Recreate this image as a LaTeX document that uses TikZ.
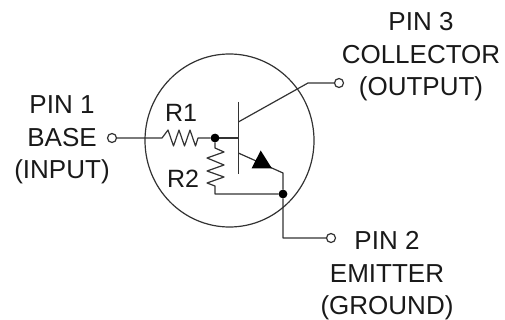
\documentclass[tikz,border=0pt]{standalone}
\usepackage{fontspec}
\setmainfont{Liberation Sans}
\begin{document}
\begin{tikzpicture}[x=1pt,y=-1pt,
  wire/.style={draw=black!80,line width=1.2pt,line join=round},
  term/.style={circle,draw=black!80,line width=1.2pt,fill=white,minimum size=9pt,inner sep=0pt},
  dotn/.style={circle,fill=black,minimum size=8.5pt,inner sep=0pt},
  lbl/.style={align=center,font=\fontsize{26}{32.5}\selectfont,text=black!90,inner sep=0pt},
  lbr/.style={font=\fontsize{25}{30}\selectfont,text=black!90,inner sep=0pt}]
\useasboundingbox (0,0) rectangle (505,320);
\fill[white] (0,0) rectangle (505,320);
\draw[wire] (229.5,140.5) ellipse (84.5 and 86.5);
\node[term] (tb) at (112,138) {};
\node[term] (tc) at (339,83) {};
\node[term] (te) at (331,238) {};
\node[dotn] (jb) at (215,138) {};
\node[dotn] (je) at (283,194) {};
\coordinate (bartop) at (238.3,102);
\coordinate (barbot) at (238.3,174);
\coordinate (barb) at (238.3,138);
\coordinate (barc) at (238.3,122);
\coordinate (cbend) at (308,83);
\coordinate (bare) at (238.3,153);
\coordinate (ebend) at (283,173);
\coordinate (ecor) at (283,238);
\coordinate (r2b) at (215,194);
\draw[wire] (bartop) -- (barbot);
\draw[wire] (tb) -- (162,138) -- (168,130) -- (173.5,146) -- (179,130) -- (184.5,146) -- (190,130) -- (195.5,146) -- (198,138) -- (jb);
\draw[wire] (jb) -- (barb);
\draw[wire] (jb) -- (215,148) -- (224,152) -- (207,158) -- (224,165) -- (207,171) -- (224,177) -- (207,183) -- (215,186) -- (r2b) -- (je);
\draw[wire] (barc) -- (cbend) -- (tc);
\draw[wire] (bare) -- (ebend) -- (je) -- (ecor) -- (te);
\fill[black] (260.7,150.5) -- (251.5,168.5) -- (272,168.5) -- cycle;
\node[dotn] at (jb) {};
\node[dotn] at (je) {};
\node[lbl] (n1) at (62,140) {PIN 1\\BASE\\(INPUT)};
\node[lbl] (n2) at (421,57) {PIN 3\\COLLECTOR\\(OUTPUT)};
\node[lbl] (n3) at (387,276) {PIN 2\\EMITTER\\(GROUND)};
\node[lbr] (r1) at (181,113) {R1};
\node[lbr] (r2) at (183,179) {R2};
\end{tikzpicture}
\end{document}
